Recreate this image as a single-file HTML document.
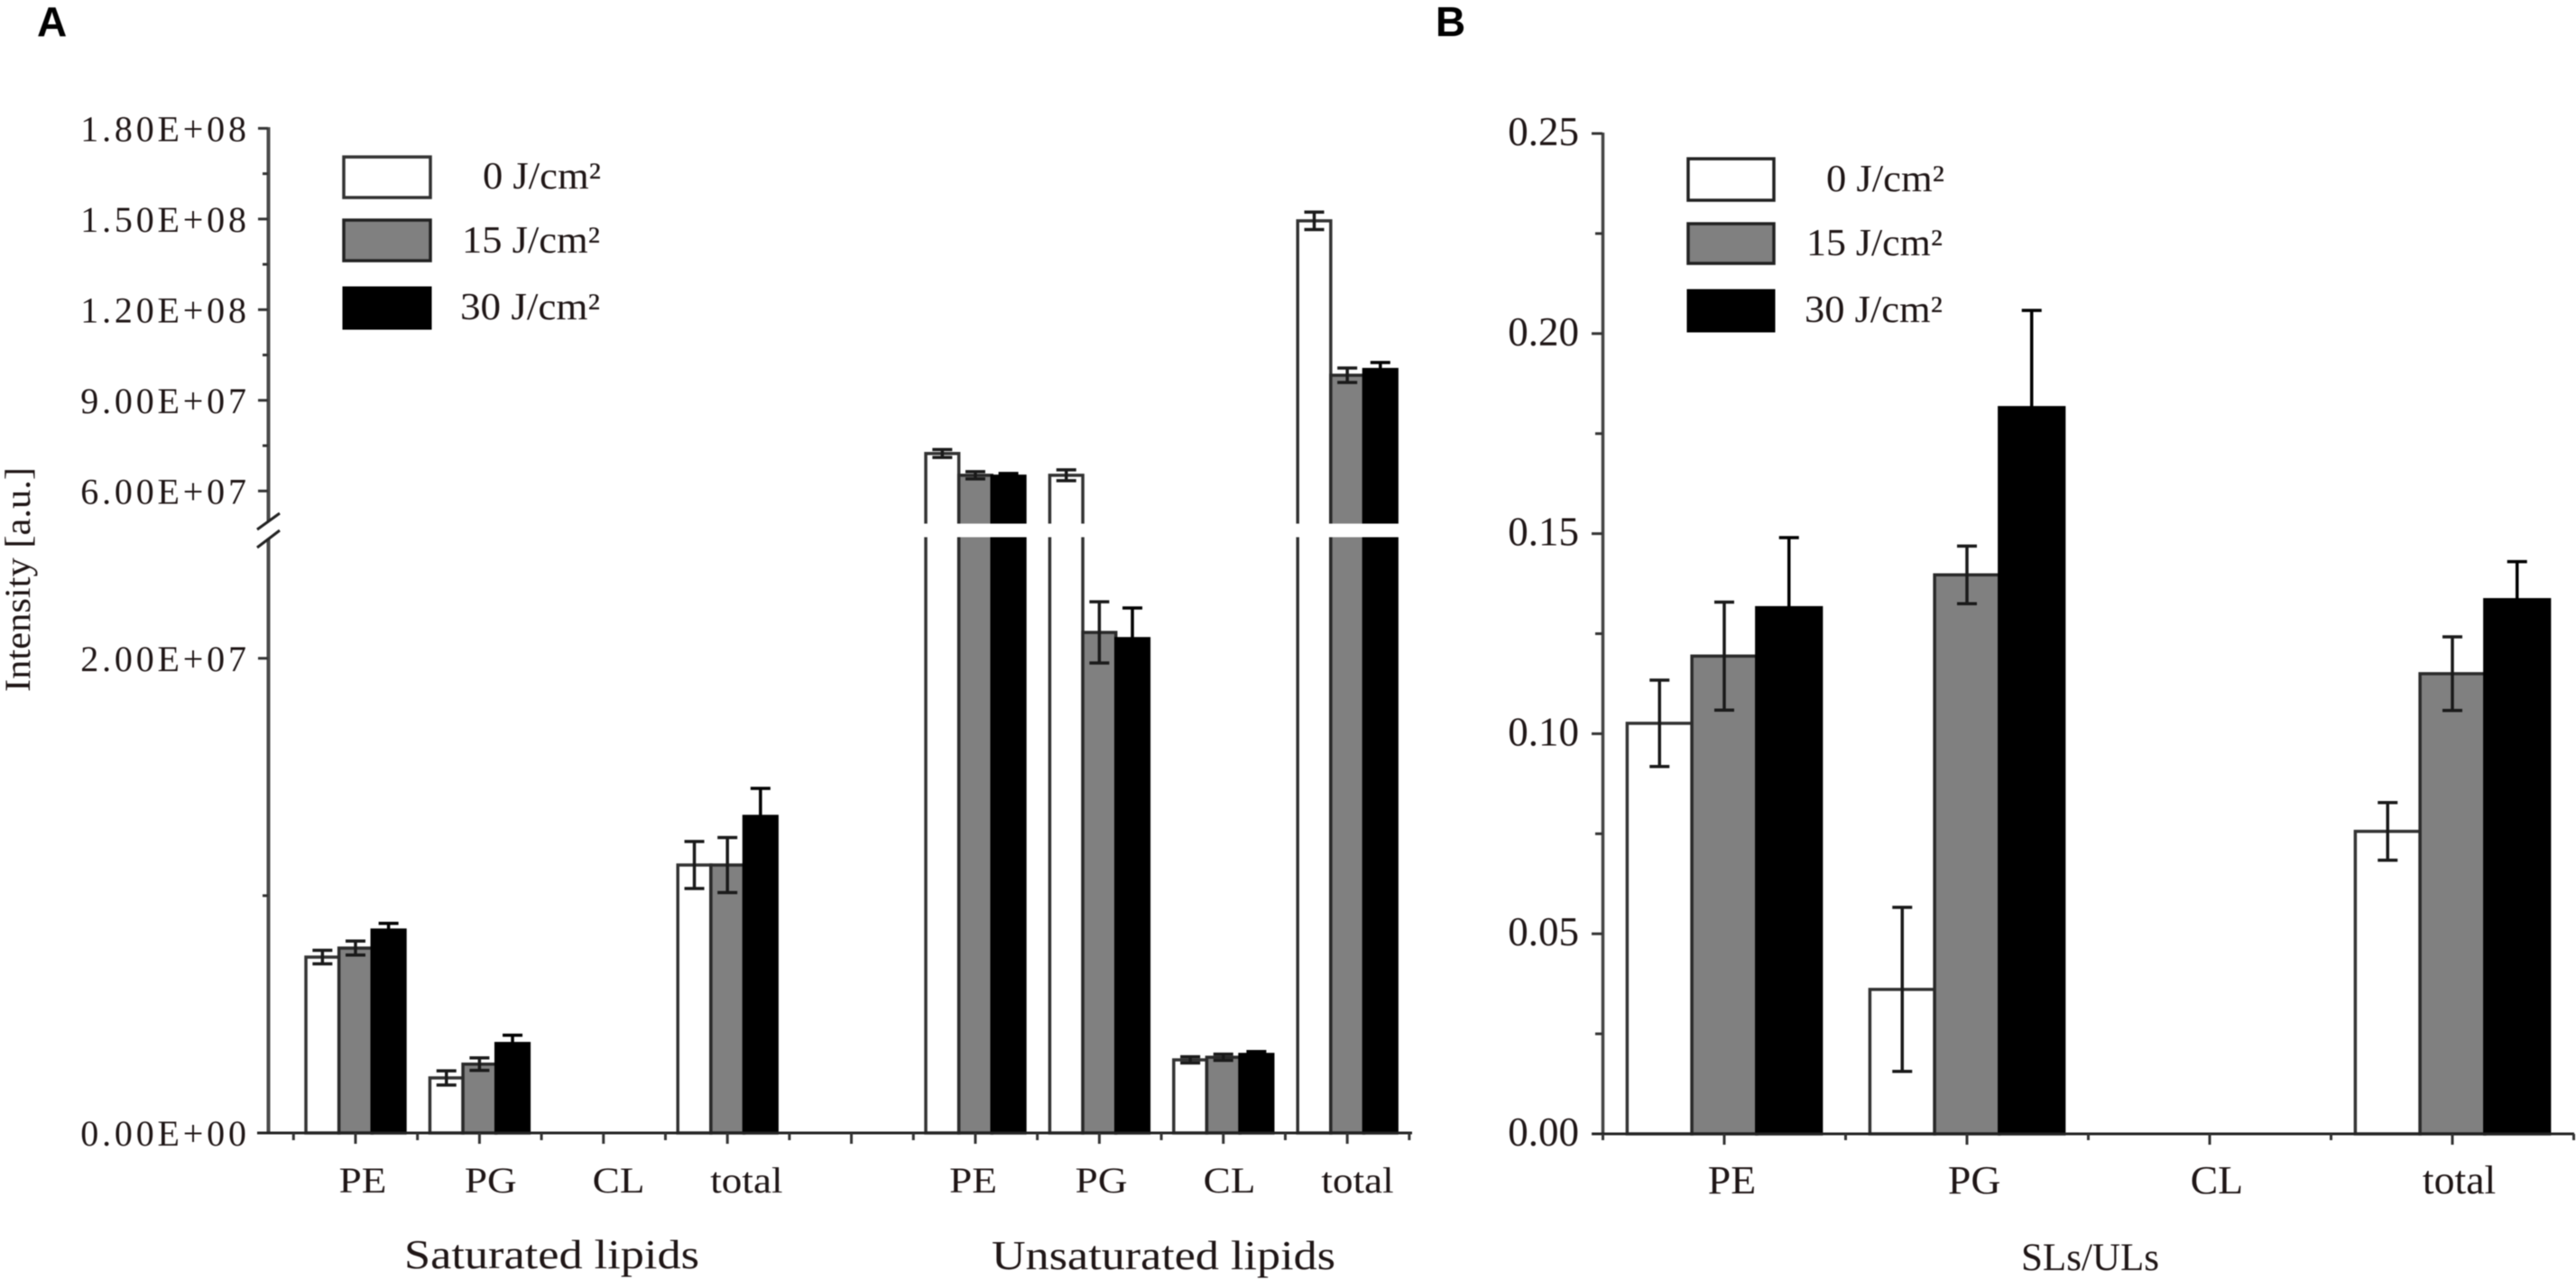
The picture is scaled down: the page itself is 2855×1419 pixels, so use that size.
<!DOCTYPE html>
<html lang="en">
<head>
<meta charset="utf-8">
<title>Lipid intensity and SLs/ULs ratio</title>
<style>
  html,body{margin:0;padding:0;background:#fff;width:2855px;height:1419px;overflow:hidden}
  svg{display:block;filter:blur(0.6px)}
  text{font-family:"Liberation Serif",serif;fill:#1f1616}
  .panel{font-family:"Liberation Sans",sans-serif;font-weight:bold;font-size:46px;fill:#000}
</style>
</head>
<body>
<svg id="chart" xmlns="http://www.w3.org/2000/svg" width="2855" height="1419" viewBox="0 0 2855 1419">
  <rect width="2855" height="1419" fill="#fff"/>
  <text class="panel" x="41" y="40">A</text>
  <text class="panel" x="1591" y="40">B</text>

  <g id="panelA"></g>
  <g id="panelB"></g>

  <text transform="translate(33,767) rotate(-90)" font-size="40" textLength="249" lengthAdjust="spacingAndGlyphs">Intensity [a.u.]</text>
  <text x="448" y="1406" font-size="46" textLength="327" lengthAdjust="spacingAndGlyphs">Saturated lipids</text>
  <text x="1099" y="1407" font-size="46" textLength="381" lengthAdjust="spacingAndGlyphs">Unsaturated lipids</text>
  <text x="2240" y="1408" font-size="43" textLength="153" lengthAdjust="spacingAndGlyphs">SLs/ULs</text>

  <g>
    <rect x="381" y="174" width="96" height="45" fill="#fff" stroke="#333" stroke-width="3.5"/>
    <rect x="381" y="244" width="96" height="45" fill="#808080" stroke="#222" stroke-width="3.5"/>
    <rect x="381" y="319" width="96" height="45" fill="#000" stroke="#000" stroke-width="3"/>
    <text x="535" y="209" font-size="42" textLength="131" lengthAdjust="spacingAndGlyphs">0 J/cm²</text>
    <text x="512" y="280" font-size="42" textLength="153" lengthAdjust="spacingAndGlyphs">15 J/cm²</text>
    <text x="510" y="354" font-size="42" textLength="155" lengthAdjust="spacingAndGlyphs">30 J/cm²</text>
  </g>
  <g>
    <rect x="1871" y="176" width="95" height="46" fill="#fff" stroke="#222" stroke-width="3.5"/>
    <rect x="1871" y="248" width="95" height="44" fill="#808080" stroke="#222" stroke-width="3.5"/>
    <rect x="1871" y="322" width="95" height="45" fill="#000" stroke="#000" stroke-width="3"/>
    <text x="2024" y="212" font-size="42" textLength="131" lengthAdjust="spacingAndGlyphs">0 J/cm²</text>
    <text x="2002" y="283" font-size="42" textLength="151" lengthAdjust="spacingAndGlyphs">15 J/cm²</text>
    <text x="2000" y="357" font-size="42" textLength="153" lengthAdjust="spacingAndGlyphs">30 J/cm²</text>
  </g>
</svg>
<script>
// Panel A data
const categoriesA = ['PE','PG','CL','total','','PE','PG','CL','total'];
const doses = ['0','15','30'];
const valuesA0  = [7.41e6, 2.32e6, 0, 11.29e6, 0, 72.4e6, 65.2e6, 3.08e6, 149.4e6];
const valuesA15 = [7.79e6, 2.90e6, 0, 11.29e6, 0, 65.2e6, 21.09e6, 3.19e6, 98.3e6];
const valuesA30 = [8.55e6, 3.77e6, 0, 13.34e6, 0, 64.9e6, 20.83e6, 3.31e6, 100.2e6];
const errorsA0  = [0.285e6, 0.30e6, 0, 0.99e6, 0, 1.3e6, 1.8e6, 0.13e6, 2.9e6];
const errorsA15 = [0.295e6, 0.265e6, 0, 1.16e6, 0, 1.2e6, 1.29e6, 0.13e6, 2.4e6];
const errorsA30 = [0.28e6, 0.35e6, 0, 1.18e6, 0, 0.9e6, 1.29e6, 0.12e6, 2.3e6];
const majorTicksA = [0, 2e7, 6e7, 9e7, 1.2e8, 1.5e8, 1.8e8];
const majorTickLabelsA = ['0.00E+00','2.00E+07','6.00E+07','9.00E+07','1.20E+08','1.50E+08','1.80E+08'];
const minorTicksA = [1e7, 7.5e7, 1.05e8, 1.35e8, 1.65e8];

// Panel B data
const categoriesB = ['PE','PG','CL','total'];
const valuesB0  = [0.1026, 0.0361, 0, 0.0756];
const valuesB15 = [0.1194, 0.1397, 0, 0.1150];
const valuesB30 = [0.1315, 0.1815, 0, 0.1335];
const errorsB0  = [0.0108, 0.0205, 0, 0.0072];
const errorsB15 = [0.0135, 0.0072, 0, 0.0092];
const errorsB30 = [0.0175, 0.0243, 0, 0.0095];
const majorTicksB = [0, 0.05, 0.10, 0.15, 0.20, 0.25];
const majorTickLabelsB = ['0.00','0.05','0.10','0.15','0.20','0.25'];
const minorTicksB = [0.025, 0.075, 0.125, 0.175, 0.225];

const NS = 'http://www.w3.org/2000/svg';
const fills = ['#fff', '#808080', '#000'];
const strokes = ['#333', '#2a2a2a', '#000'];
const errorColors = ['#1a1a1a', '#1a1a1a', '#000'];

function yA(v) {
  return v <= 3e7 ? 1256 - v * 26.31e-6 : 544.3 - (v - 6e7) * 3.35e-6;
}
function xA(i) { return 394 + 137.4 * i; }
function yB(v) { return 1257 - v * 4436; }
function xB(i) { return 1911 + 269 * i; }
function labelXA(i) { return i < 4 ? 402 + 141.8 * i : 1078.6 + 142 * (i - 5); }
function labelXB(i) { return 1919.5 + 268.7 * i; }

function line(parent, x1, y1, x2, y2, color, width, name) {
  const el = document.createElementNS(NS, 'line');
  el.setAttribute('x1', x1);
  el.setAttribute('y1', y1);
  el.setAttribute('x2', x2);
  el.setAttribute('y2', y2);
  el.setAttribute('stroke', color);
  el.setAttribute('stroke-width', width);
  
  
  parent.appendChild(el);
  return el;
}
function label(parent, x, y, str, size, anchor, stretch, adjust, name) {
  const el = document.createElementNS(NS, 'text');
  el.setAttribute('x', x);
  el.setAttribute('y', y);
  el.setAttribute('font-size', size);
  el.setAttribute('text-anchor', anchor);
  el.textContent = str;
  
  
  parent.appendChild(el);
  const len = el.getComputedTextLength();
  el.setAttribute('textLength', (len * stretch).toFixed(1));
  el.setAttribute('lengthAdjust', adjust);
  return el;
}
function drawBars(parent, cats, series, errs, x, y, step, capW, errW, prefix) {
  const barW = step * 0.8 / 3;
  cats.forEach(function (cat, i) {
    if (!cat) return;
    series.forEach(function (vals, s) {
      if (!vals[i]) return;
      const left = x(i) + (s - 1.5) * barW;
      const top = y(vals[i]);
      const r = document.createElementNS(NS, 'rect');
      r.setAttribute('x', left);
      r.setAttribute('y', top);
      r.setAttribute('width', barW);
      r.setAttribute('height', y(0) - top);
      r.setAttribute('fill', fills[s]);
      r.setAttribute('stroke', strokes[s]);
      r.setAttribute('stroke-width', 3.5);
      
      
      parent.appendChild(r);
    });
  });
  return function drawErrors(target) {
    cats.forEach(function (cat, i) {
      if (!cat) return;
      series.forEach(function (vals, s) {
        if (!vals[i]) return;
        const cx = x(i) + (s - 1) * barW;
        const hi = y(vals[i] + errs[s][i]);
        const lo = y(vals[i] - errs[s][i]);
        const c = errorColors[s];
        const base = prefix + '-error-' + cat + '-' + doses[s];
        line(target, cx, hi, cx, lo, c, errW, base);
        line(target, cx - capW / 2, hi, cx + capW / 2, hi, c, errW, base + '-cap-top');
        line(target, cx - capW / 2, lo, cx + capW / 2, lo, c, errW, base + '-cap-bottom');
      });
    });
  };
}

// ---- Panel A ----
const gA = document.getElementById('panelA');
const errA = drawBars(gA, categoriesA, [valuesA0, valuesA15, valuesA30], [errorsA0, errorsA15, errorsA30], xA, yA, 137.4, 22, 3.5, 'sat-unsat');
errA(gA);
// axis-break band across the bars
const band = document.createElementNS(NS, 'rect');
band.setAttribute('x', 320);
band.setAttribute('y', 580.5);
band.setAttribute('width', 1250);
band.setAttribute('height', 15);
band.setAttribute('fill', '#fff');


gA.appendChild(band);

line(gA, 297.5, 141, 297.5, 578, '#4a4a4a', 4, 'y-axis-upper');
line(gA, 297.5, 597, 297.5, 1257, '#4a4a4a', 4, 'y-axis-lower');
line(gA, 285, 587, 310, 569, '#222', 3, 'axis-break-mark-upper');
line(gA, 285, 607, 310, 588, '#222', 3, 'axis-break-mark-lower');
majorTicksA.forEach(function (v, i) {
  line(gA, 286, yA(v), 297, yA(v), '#333', 3, 'y-tick-a');
  label(gA, 273, yA(v) + 14, majorTickLabelsA[i], 40, 'end', 1.17, 'spacing', 'y-tick-label-a');
});
minorTicksA.forEach(function (v) {
  line(gA, 291, yA(v), 297, yA(v), '#333', 3, 'y-minor-tick-a');
});
line(gA, 285, 1256, 1565, 1256, '#222', 3, 'x-axis-a');
categoriesA.forEach(function (cat, i) {
  line(gA, xA(i), 1256, xA(i), 1268, '#333', 3, 'x-tick-a');
  if (cat) label(gA, labelXA(i), 1322, cat, 40, 'middle', 1.13, 'spacingAndGlyphs', 'x-tick-label-a-' + cat);
});
for (let i = 0; i <= categoriesA.length; i++) {
  line(gA, xA(i) - 68.7, 1256, xA(i) - 68.7, 1264, '#333', 3, 'x-minor-tick-a');
}

// ---- Panel B ----
const gB = document.getElementById('panelB');
const errB = drawBars(gB, categoriesB, [valuesB0, valuesB15, valuesB30], [errorsB0, errorsB15, errorsB30], xB, yB, 269, 22, 3.5, 'ratio');
errB(gB);
line(gB, 1776.5, 147, 1776.5, 1258, '#444', 3.5, 'y-axis-b');
majorTicksB.forEach(function (v, i) {
  line(gB, 1764, yB(v), 1776, yB(v), '#333', 3, 'y-tick-b');
  label(gB, 1750, yB(v) + 13, majorTickLabelsB[i], 45, 'end', 1, 'spacing', 'y-tick-label-b');
});
minorTicksB.forEach(function (v) {
  line(gB, 1768, yB(v), 1776, yB(v), '#333', 3, 'y-minor-tick-b');
});
line(gB, 1765, 1257, 2853, 1257, '#222', 3, 'x-axis-b');
categoriesB.forEach(function (cat, i) {
  line(gB, xB(i), 1257, xB(i), 1269, '#333', 3, 'x-tick-b');
  label(gB, labelXB(i), 1323, cat, 44, 'middle', 1.04, 'spacingAndGlyphs', 'x-tick-label-b-' + cat);
});
for (let i = 0; i <= categoriesB.length; i++) {
  line(gB, xB(i) - 134.5, 1257, xB(i) - 134.5, 1264, '#333', 3, 'x-minor-tick-b');
}
</script>
</body>
</html>
